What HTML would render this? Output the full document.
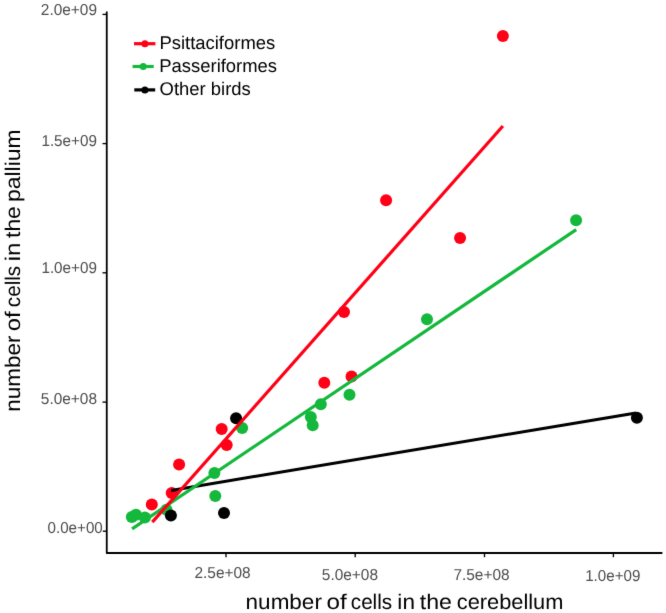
<!DOCTYPE html>
<html><head><meta charset="utf-8"><style>
html,body{margin:0;padding:0;background:#fff;width:666px;height:613px;overflow:hidden}
svg{display:block}
text{font-family:"Liberation Sans",sans-serif;text-rendering:geometricPrecision}
.tk{fill:#4d4d4d;font-size:15.8px}
.lg{fill:#000;font-size:18.44px}
.ti{fill:#000;font-size:21.2px}
</style></head><body>
<svg width="666" height="613" viewBox="0 0 666 613">
<defs><filter id="soft" filterUnits="userSpaceOnUse" x="0" y="0" width="666" height="613" color-interpolation-filters="sRGB"><feConvolveMatrix order="3" kernelMatrix="1 10 1 10 100 10 1 10 1" divisor="144" edgeMode="duplicate"/></filter></defs>
<g filter="url(#soft)">
<rect width="666" height="613" fill="#fff"/>
<!-- points -->
<g fill="#14b83c">
<circle cx="131.8" cy="517.0" r="6"/>
<circle cx="136.0" cy="514.7" r="6"/>
<circle cx="144.9" cy="517.5" r="6"/>
<circle cx="166.5" cy="509.7" r="6"/>
<circle cx="214.4" cy="473.0" r="6"/>
<circle cx="215.3" cy="495.9" r="6"/>
<circle cx="242.15" cy="428.1" r="6"/>
<circle cx="310.8" cy="417.1" r="6"/>
<circle cx="312.7" cy="425.35" r="6"/>
<circle cx="320.8" cy="404.25" r="6"/>
<circle cx="349.5" cy="394.7" r="6"/>
<circle cx="427.0" cy="319.3" r="6"/>
<circle cx="576.1" cy="220.2" r="6"/>
</g>
<g fill="#ff0016">
<circle cx="151.8" cy="504.4" r="6"/>
<circle cx="171.7" cy="492.9" r="6"/>
<circle cx="179.1" cy="464.5" r="6"/>
<circle cx="221.7" cy="429.1" r="6"/>
<circle cx="226.7" cy="445.0" r="6"/>
<circle cx="324.3" cy="382.85" r="6"/>
<circle cx="344.0" cy="312.0" r="6"/>
<circle cx="351.55" cy="376.6" r="6"/>
<circle cx="386.1" cy="200.25" r="6"/>
<circle cx="460.05" cy="237.95" r="6"/>
<circle cx="502.9" cy="36.0" r="6"/>
</g>
<g fill="#000">
<circle cx="170.9" cy="515.6" r="6"/>
<circle cx="224.0" cy="512.9" r="6"/>
<circle cx="236.1" cy="418.15" r="6"/>
<circle cx="636.9" cy="417.7" r="6"/>
</g>
<!-- regression lines -->
<g stroke-width="3" stroke-linecap="butt" fill="none">
<line x1="171.1" y1="490.4" x2="636.0" y2="412.9" stroke="#000"/>
<line x1="132.1" y1="528.8" x2="576.2" y2="229.6" stroke="#14b83c" stroke-width="3.2"/>
<line x1="152.3" y1="522.1" x2="502.9" y2="126.0" stroke="#ff0016" stroke-width="3.2"/>
</g>
<!-- axes -->
<g stroke="#000" fill="none">
<path d="M106.75 11.4 V553.0 H662.4" stroke-width="1.8" stroke-linejoin="round"/>
<g stroke-width="1.35">
<line x1="102.5" y1="14.4" x2="106" y2="14.4"/>
<line x1="102.5" y1="143.6" x2="106" y2="143.6"/>
<line x1="102.5" y1="272.8" x2="106" y2="272.8"/>
<line x1="102.5" y1="402.1" x2="106" y2="402.1"/>
<line x1="102.8" y1="531.2" x2="106" y2="531.2"/>
<line x1="226.0" y1="554" x2="226.0" y2="557.2"/>
<line x1="355.2" y1="554" x2="355.2" y2="557.2"/>
<line x1="484.5" y1="554" x2="484.5" y2="557.2"/>
<line x1="613.4" y1="554" x2="613.4" y2="557.2"/>
</g>
</g>
<!-- tick labels -->
<g class="tk" text-anchor="end">
<text textLength="56.2" lengthAdjust="spacingAndGlyphs" x="97" y="14.7">2.0e+09</text>
<text textLength="55.6" lengthAdjust="spacingAndGlyphs" x="97" y="146.4">1.5e+09</text>
<text textLength="55.6" lengthAdjust="spacingAndGlyphs" x="97" y="273.0">1.0e+09</text>
<text textLength="56.2" lengthAdjust="spacingAndGlyphs" x="97" y="404.2">5.0e+08</text>
<text textLength="55.3" lengthAdjust="spacingAndGlyphs" x="102.8" y="532.8">0.0e+00</text>
</g>
<g class="tk">
<text textLength="56.2" lengthAdjust="spacingAndGlyphs" x="194.5" y="577.7">2.5e+08</text>
<text textLength="56.2" lengthAdjust="spacingAndGlyphs" x="321.8" y="580.4">5.0e+08</text>
<text textLength="56.2" lengthAdjust="spacingAndGlyphs" x="453.4" y="580.4">7.5e+08</text>
<text textLength="55.2" lengthAdjust="spacingAndGlyphs" x="585.2" y="581.4">1.0e+09</text>
</g>
<!-- legend -->
<g stroke-width="3.2">
<line x1="134" y1="43.7" x2="155.4" y2="43.7" stroke="#ff0016"/>
<line x1="132.6" y1="66.5" x2="153.7" y2="66.5" stroke="#14b83c"/>
<line x1="134.3" y1="89.9" x2="155.2" y2="89.9" stroke="#000"/>
</g>
<circle cx="144.9" cy="43.7" r="3.5" fill="#ff0016"/>
<circle cx="143.2" cy="66.5" r="3.5" fill="#14b83c"/>
<circle cx="144.9" cy="89.9" r="3.5" fill="#000"/>
<g class="lg">
<text x="159.45" y="48.6">Psittaciformes</text>
<text x="159.25" y="71.9">Passeriformes</text>
<text x="159.6" y="94.7">Other birds</text>
</g>
<!-- titles -->
<g class="ti">
<text x="245.61" y="608.6" textLength="76.27" lengthAdjust="spacingAndGlyphs">number</text>
<text x="326.58" y="608.6" textLength="20.18" lengthAdjust="spacingAndGlyphs">of</text>
<text x="350.82" y="608.6" textLength="41.32" lengthAdjust="spacingAndGlyphs">cells</text>
<text x="397.39" y="608.6" textLength="17.58" lengthAdjust="spacingAndGlyphs">in</text>
<text x="419.75" y="608.6" textLength="32.18" lengthAdjust="spacingAndGlyphs">the</text>
<text x="456.77" y="608.6" textLength="106.66" lengthAdjust="spacingAndGlyphs">cerebellum</text>
</g>
<g class="ti" transform="rotate(-90)">
<text x="-411.79" y="19.7" textLength="76.27" lengthAdjust="spacingAndGlyphs">number</text>
<text x="-331.21" y="19.7" textLength="19.97" lengthAdjust="spacingAndGlyphs">of</text>
<text x="-307.18" y="19.7" textLength="41.32" lengthAdjust="spacingAndGlyphs">cells</text>
<text x="-261.30" y="19.7" textLength="18.66" lengthAdjust="spacingAndGlyphs">in</text>
<text x="-237.95" y="19.7" textLength="31.76" lengthAdjust="spacingAndGlyphs">the</text>
<text x="-202.08" y="19.7" textLength="72.69" lengthAdjust="spacingAndGlyphs">pallium</text>
</g>
</g>
</svg>
</body></html>
